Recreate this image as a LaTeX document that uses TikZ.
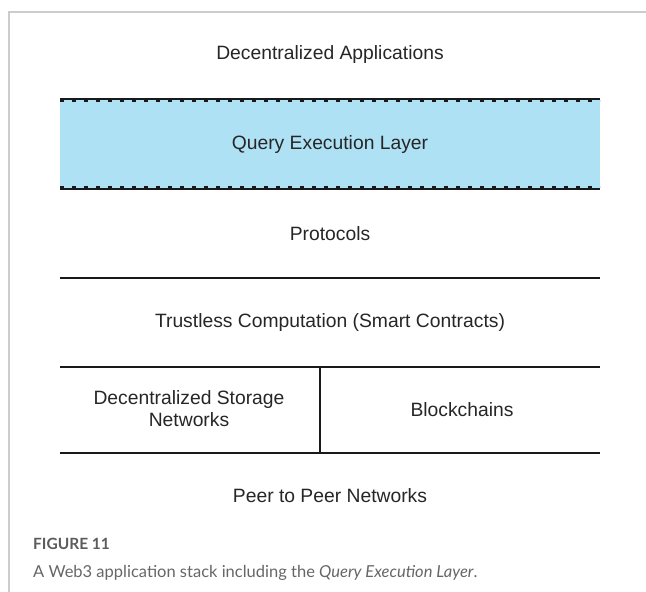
\documentclass[tikz,border=0pt]{standalone}
\usepackage{fontspec}
\setmainfont{Liberation Sans}
\newfontfamily\capfont{Lato}
\usetikzlibrary{positioning}
\definecolor{qblue}{HTML}{AFE1F5}
\definecolor{capgray}{HTML}{666666}
\definecolor{framegray}{HTML}{CCCCCC}

\begin{document}
\begin{tikzpicture}[x=1pt,y=-1pt,
	lyr/.style={font=\fontsize{19.3}{22}\selectfont, text=black!85, align=center},
	sep/.style={line width=2pt, black!90},
	dsh/.style={line width=1.5pt, black!90, dash pattern=on 4pt off 8pt},
	captxt/.style={font=\capfont\fontsize{16.5}{19}\selectfont, text=capgray, anchor=west, inner sep=0pt}]
	\useasboundingbox (0,0) rectangle (646,592);
	\draw[framegray, line width=1.5pt] (9,592)--(9,12)--(646,12);
	% query layer
	\fill[qblue] (60,99) rectangle (600,189);
	\draw[sep] (60,99)--(600,99);
	\draw[dsh] (60,101)--(600,101);
	\draw[sep] (60,189)--(600,189);
	\draw[dsh] (60,187)--(600,187);
	% other layers
	\draw[sep] (60,278)--(600,278);
	\draw[sep] (60,367)--(600,367);
	\draw[sep] (60,453)--(600,453);
	\draw[sep] (320,367)--(320,453);
	\node[lyr] (apps) at (330,55) {Decentralized Applications};
	\node[lyr] (qel) at (330,145) {Query Execution Layer};
	\node[lyr] (prot) at (330,234) {Protocols};
	\node[lyr] (tc) at (330,323) {Trustless Computation (Smart Contracts)};
	\node[lyr] (dsn) at (189,409) {Decentralized Storage\\Networks};
	\node[lyr] (bc) at (462,410) {Blockchains};
	\node[lyr] (p2p) at (330,496) {Peer to Peer Networks};
	% caption
	\node[captxt, font=\capfont\bfseries\fontsize{15.5}{19}\selectfont, text=capgray!90!black] (fig) at (33,544) {FIGURE 11};
	\node[captxt] (txt) at (33,573) {A Web3 application stack including the \textit{Query Execution Layer}.};
\end{tikzpicture}
\end{document}
